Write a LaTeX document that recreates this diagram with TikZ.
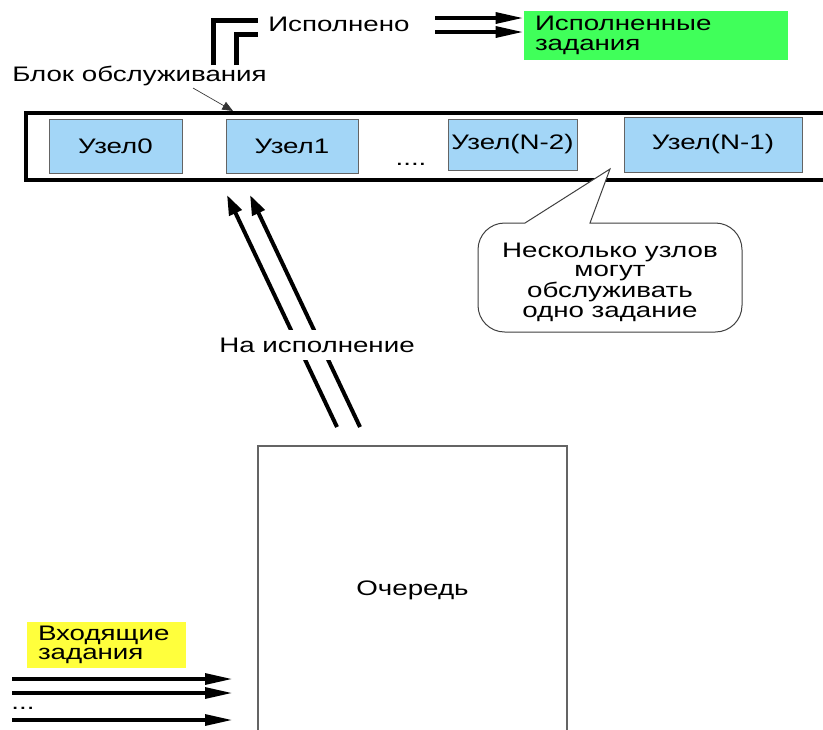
\documentclass[tikz,border=0pt]{standalone}
\usepackage{fontspec}
\setmainfont{Liberation Sans}[FakeStretch=1.32]
\usetikzlibrary{arrows.meta}
\definecolor{nodeblue}{RGB}{163,214,247}
\definecolor{donegreen}{RGB}{64,255,90}
\definecolor{inyellow}{RGB}{255,255,60}
\definecolor{edgegray}{RGB}{100,100,100}
\begin{document}
\begin{tikzpicture}[x=0.75pt,y=-0.75pt,
  every node/.style={font=\fontsize{15.75}{14.5}\selectfont},
  uzel/.style={draw=edgegray, line width=0.75pt, fill=nodeblue, inner sep=0pt},
  blockbox/.style={draw=black, line width=2.4pt, inner sep=0pt, minimum width=618pt, minimum height=50.25pt},
  tagbox/.style={inner xsep=8.25pt, inner ysep=0pt, align=left},
  queuebox/.style={draw=edgegray, line width=1.1pt, inner sep=0pt, minimum width=231.75pt, minimum height=216pt},
  calloutline/.style={draw=black!75, line width=0.75pt, fill=white},
  fatarrow/.style={line width=3pt, -{Triangle[length=21pt,width=8pt]}},
  uparrow/.style={line width=3pt, -{Triangle[length=15pt,width=10pt]}},
  bracketline/.style={line width=3.75pt},
  pointer/.style={line width=0.5pt, draw=black!80, -{Triangle[length=8pt,width=6.5pt]}},
  plain/.style={inner sep=0pt}
]
\path[use as bounding box] (0,0) rectangle (823,729);
\fill[white] (0,0) rectangle (823,729);
\clip (0,0) rectangle (823,729);

% service block
\node[blockbox] (block) at (438,146.5) {};
\node[uzel, minimum width=99.75pt, minimum height=40.5pt] (u0) at (115.5,146) {Узел0};
\node[uzel, minimum width=99pt, minimum height=40.5pt] (u1) at (292,146) {Узел1};
\node[uzel, minimum width=96.75pt, minimum height=38.25pt] (u2) at (512.5,144.5) {Узел(N-2)};
\node[uzel, minimum width=133.5pt, minimum height=41.25pt] (u3) at (713,144.5) {Узел(N-1)};
\node[plain] (dots) at (411,164) {....};

% block label and pointer
\node[plain, anchor=west] (blabel) at (12,76) {Блок обслуживания};
\coordinate (bls) at (193,88);
\coordinate (blt) at (233,111);
\draw[pointer] (bls) -- (blt);

% done brackets
\coordinate (b1a) at (213,65);
\coordinate (b1b) at (213,20);
\coordinate (b1c) at (258,20);
\coordinate (b2a) at (236,65);
\coordinate (b2b) at (236,34);
\coordinate (b2c) at (258,34);
\draw[bracketline] (b1a) -- (b1b) -- (b1c);
\draw[bracketline] (b2a) -- (b2b) -- (b2c);
\node[plain, anchor=west] (done) at (268,24) {Исполнено};

% done tasks
\node[tagbox, fill=donegreen, minimum width=198pt, minimum height=36.75pt, text width=181.5pt] (green) at (656,35.5) {Исполненные\\задания};
\coordinate (d1) at (435,18);
\coordinate (d2) at (435,32);
\draw[fatarrow] (d1) -- (d1 -| green.west);
\draw[fatarrow] (d2) -- (d2 -| green.west);

% callout
\coordinate (tail) at (610,169);
\draw[calloutline] (525,223) [sharp corners] -- (tail) -- (590,223) [rounded corners=20] -- (742,223) -- (742,332) -- (478,332) -- (478,223) -- (525,223);
\node[align=center, inner sep=0pt] (note) at (610,282) {Несколько узлов\\могут\\обслуживать\\одно задание};

% to execution
\coordinate (e1s) at (337,427);
\coordinate (e1t) at (227,195);
\coordinate (e2s) at (360,427);
\coordinate (e2t) at (250,195);
\draw[uparrow] (e1s) -- (e1t);
\draw[uparrow] (e2s) -- (e2t);
\node[fill=white, inner xsep=2pt, inner ysep=6pt] (exec) at (317,345) {На исполнение};

% queue
\node[queuebox] (queue) at (412.5,590) {Очередь};

% incoming
\node[tagbox, fill=inyellow, minimum width=119.25pt, minimum height=34.5pt, text width=102.75pt] (yellow) at (106.5,645) {Входящие\\задания};
\coordinate (i1s) at (12,679);
\coordinate (i1t) at (233,679);
\coordinate (i2s) at (12,693);
\coordinate (i2t) at (233,693);
\coordinate (i3s) at (12,720);
\coordinate (i3t) at (233,720);
\draw[fatarrow] (i1s) -- (i1t);
\draw[fatarrow] (i2s) -- (i2t);
\draw[fatarrow] (i3s) -- (i3t);
\node[plain] (idots) at (23,708) {...};
\end{tikzpicture}
\end{document}
